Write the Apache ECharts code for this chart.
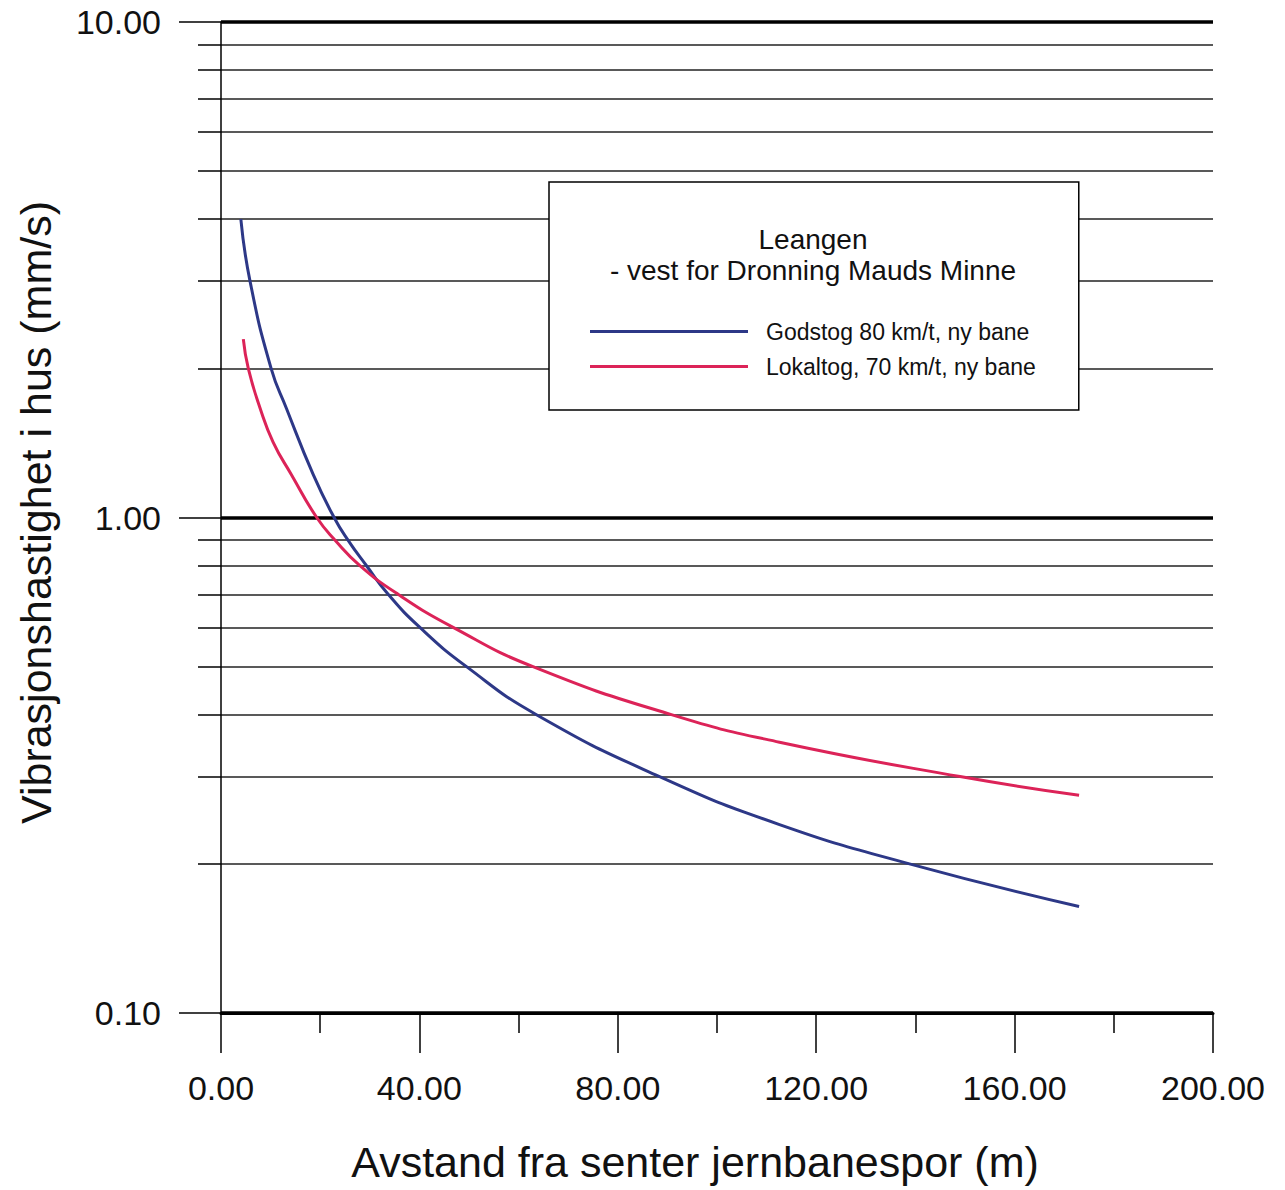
<!DOCTYPE html>
<html>
<head>
<meta charset="utf-8">
<script src="https://cdn.jsdelivr.net/npm/echarts@6/dist/echarts.min.js"></script>
<style>
html,body{margin:0;padding:0;background:#fff;}
#chart{width:1285px;height:1190px;}
</style>
</head>
<body>
<div id="chart"></div>
<script>
// ---- data ----
const seriesNames = ['Godstog 80 km/t, ny bane', 'Lokaltog, 70 km/t, ny bane'];
const legendTitle = 'Leangen\n- vest for Dronning Mauds Minne';
const xAxisName = 'Avstand fra senter jernbanespor (m)';
const yAxisName = 'Vibrasjonshastighet i hus (mm/s)';
// distance (m) / velocity (mm/s)
const godstogX = [4.0, 5.85, 10.1, 13.2, 18.6, 22.8, 25.6, 29.3, 33.7, 40.1, 49.5, 63.6, 88.4, 112.6, 138.8, 173];
const godstogY = [4.0, 3.0, 2.0, 1.66, 1.22, 1.0, 0.9, 0.8, 0.7, 0.6, 0.5, 0.4, 0.3, 0.24, 0.2, 0.164];
const lokaltogX = [4.5, 5.5, 7.9, 10.5, 14.2, 19.3, 23.0, 28.0, 35.7, 46.8, 62.9, 90.8, 112.6, 149, 173];
const lokaltogY = [2.29, 2.0, 1.66, 1.42, 1.22, 1.0, 0.9, 0.8, 0.7, 0.6, 0.5, 0.4, 0.352, 0.3, 0.275];
const yMinorTicks = [0.2, 0.3, 0.4, 0.5, 0.6, 0.7, 0.8, 0.9, 2, 3, 4, 5, 6, 7, 8, 9];
const xMin = 0, xMax = 200, xInterval = 40;
const yMin = 0.1, yMax = 10;

const zip = (xs, ys) => xs.map((x, i) => [x, ys[i]]);
const FONT = '"Liberation Sans", Arial, Helvetica, sans-serif';
const INK = '#111';

const chart = echarts.init(document.getElementById('chart'), null, {renderer: 'svg'});
chart.setOption({
  backgroundColor: '#fff',
  animation: false,
  textStyle: {fontFamily: FONT, color: INK},
  grid: {left: 221, right: 72, top: 22, bottom: 177, containLabel: false},
  xAxis: {
    type: 'value', min: xMin, max: xMax, interval: xInterval,
    name: xAxisName, nameLocation: 'middle', nameGap: 127,
    nameTextStyle: {fontSize: 43, color: INK, fontFamily: FONT, padding: [0, 44, 0, 0]},
    axisLine: {show: true, lineStyle: {color: '#000', width: 3}},
    axisTick: {show: true, length: 40, lineStyle: {color: '#000', width: 1.5}},
    minorTick: {show: true, splitNumber: 2, length: 20, lineStyle: {color: '#000', width: 1.5}},
    splitLine: {show: false},
    axisLabel: {fontSize: 34, color: INK, margin: 58, fontFamily: FONT,
      formatter: v => v.toFixed(2)}
  },
  yAxis: [{
    type: 'log', logBase: 10, min: yMin, max: yMax,
    name: yAxisName, nameLocation: 'middle', nameGap: 164, nameRotate: 90,
    nameTextStyle: {fontSize: 43, color: INK, fontFamily: FONT, padding: [0, 0, 0, 10]},
    axisLine: {show: true, lineStyle: {color: '#000', width: 1.5}},
    axisTick: {show: true, length: 42, lineStyle: {color: '#000', width: 1.5}},
    splitLine: {show: true, lineStyle: {color: '#000', width: 3.5}},
    axisLabel: {fontSize: 34, color: INK, margin: 60, fontFamily: FONT,
      formatter: v => Number(v).toFixed(2)}
  }, {
    type: 'log', logBase: 10, min: yMin, max: yMax, position: 'left',
    axisLine: {show: false},
    axisTick: {show: true, length: 23, customValues: yMinorTicks, lineStyle: {color: '#000', width: 1.5}},
    splitLine: {show: true, lineStyle: {color: '#222', width: 1.6}},
    axisLabel: {show: false}
  }],
  legend: {
    show: true, orient: 'vertical', left: 549, top: 182,
    padding: [138, 43, 32, 41], itemGap: 12,
    backgroundColor: '#fff', borderColor: '#000', borderWidth: 1.5,
    icon: 'rect', itemWidth: 158, itemHeight: 3,
    textStyle: {fontSize: 23, color: INK, fontFamily: FONT, padding: [0, 0, 0, 13]},
    data: seriesNames, z: 20
  },
  graphic: [{
    type: 'text', x: 813, y: 224, z: 100,
    style: {text: legendTitle, align: 'center', verticalAlign: 'top',
      fontSize: 28, lineHeight: 31, fill: INK, fontFamily: FONT}
  }],
  series: [{
    name: seriesNames[0], type: 'line', yAxisIndex: 0,
    data: zip(godstogX, godstogY), smooth: 0.5,
    showSymbol: false, symbol: 'none',
    lineStyle: {color: '#2d3887', width: 3}, itemStyle: {color: '#2d3887'}, z: 5
  }, {
    name: seriesNames[1], type: 'line', yAxisIndex: 0,
    data: zip(lokaltogX, lokaltogY), smooth: 0.5,
    showSymbol: false, symbol: 'none',
    lineStyle: {color: '#dc2358', width: 3}, itemStyle: {color: '#dc2358'}, z: 5
  }]
});
</script>
</body>
</html>
